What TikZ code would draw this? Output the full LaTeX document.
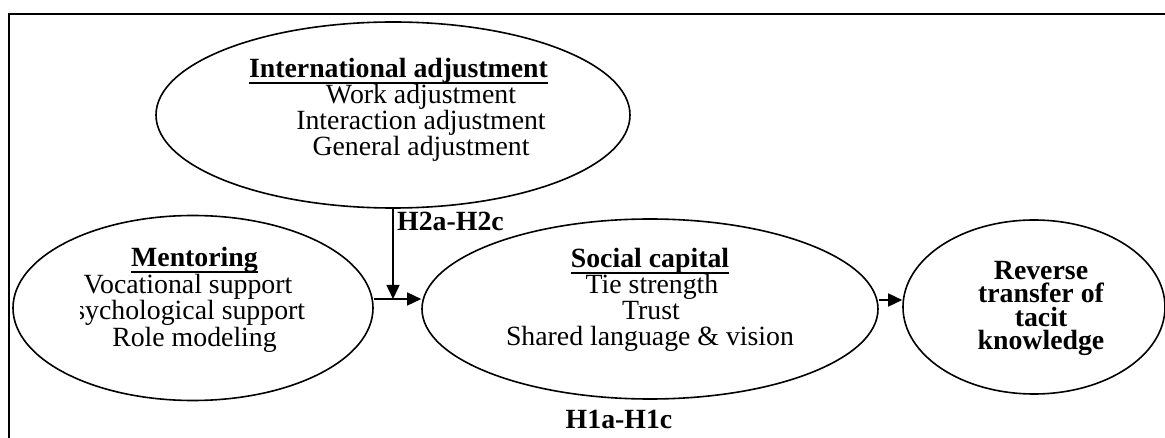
\documentclass[tikz,border=0pt]{standalone}
\usepackage{fontspec}
\setmainfont{Liberation Serif}
\usetikzlibrary{shapes.geometric,arrows.meta}
\newcommand\ulbf[1]{\setbox0=\hbox{\bfseries #1}\rlap{\rule[-6pt]{\wd0}{2pt}}\box0}
\begin{document}
\begin{tikzpicture}[x=1pt,y=-1pt,
  ell/.style={draw, ellipse, line width=1.6pt, inner sep=0pt},
  txt/.style={anchor=base, inner sep=0pt, font=\fontsize{27.8}{30}\selectfont},
  btxt/.style={txt, font=\fontsize{27.8}{30}\selectfont\bfseries},
  tight/.style={text height=15pt, text depth=4pt},
  arr/.style={line width=1.5pt, -{Triangle[length=14pt,width=13pt]}}]
\useasboundingbox (0,0) rectangle (1165,438);
\draw[line width=2pt, line join=miter] (9,440) -- (9,14) -- (1167,14);

% ellipses
\node[ell, minimum width=474pt, minimum height=186pt] (intl) at (393,115) {};
\node[ell, minimum width=360pt, minimum height=185pt] (mentor) at (193,308) {};
\node[ell, minimum width=456pt, minimum height=180pt] (social) at (650,309) {};
\node[ell, minimum width=262pt, minimum height=174pt] (rev) at (1034,307) {};

% international adjustment
\node[btxt] (intlT) at (398.5,78) {\ulbf{International adjustment}};
\node[txt] (intl1) at (421,104) {Work adjustment};
\node[txt] (intl2) at (421,130) {Interaction adjustment};
\node[txt] (intl3) at (421,156) {General adjustment};

% mentoring
\node[btxt] (mentT) at (194.5,267) {\ulbf{Mentoring}};
\node[txt] (ment1) at (188,294) {Vocational support};
\begin{scope}
\clip (80,300) rectangle (400,340);
\node[txt] (ment2) at (182,320) {Psychological support};
\end{scope}
\node[txt] (ment3) at (194.5,347) {Role modeling};

% social capital
\node[btxt] (socT) at (650,268) {\ulbf{Social capital}};
\node[txt] (soc1) at (652,294) {Tie strength};
\node[txt] (soc2) at (651,320) {Trust};
\node[txt] (soc3) at (650,346) {Shared language \& vision};

% reverse transfer
\node[btxt, tight] (rev1) at (1041,280) {Reverse};
\node[btxt, tight] (rev2) at (1041,303) {transfer of};
\node[btxt, tight] (rev3) at (1041,327) {tacit};
\node[btxt, tight] (rev4) at (1041,350) {knowledge};

% hypothesis labels
\node[btxt, anchor=base west] (h2) at (397,231) {H2a-H2c};
\node[btxt] (h1) at (619,428) {H1a-H1c};

% connectors
\coordinate (junc) at (intl.south |- 0,299);
\coordinate (junc2) at (social.east |- 0,300);
\draw[arr] (intl.south) -- (junc);
\draw[arr] (mentor.east |- junc) -- (social.west |- junc);
\draw[arr] (junc2) -- (rev.west |- junc2);
\end{tikzpicture}
\end{document}
